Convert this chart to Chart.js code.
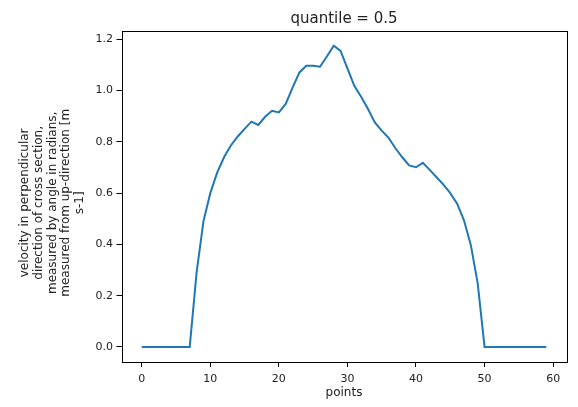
<!DOCTYPE html>
<html>
<head>
<meta charset="utf-8">
<script src="https://cdn.jsdelivr.net/npm/chart.js@4/dist/chart.umd.min.js"></script>
<style>
  html, body { margin: 0; padding: 0; background: #fff; }
  #wrap { width: 578px; height: 407px; }
</style>
</head>
<body>
<div id="wrap"><canvas id="chart" width="578" height="407"></canvas></div>
<script>
// median velocity profile along the section
const points = Array.from({length: 60}, (_, i) => i)
const velocity = [
  0, 0, 0, 0, 0, 0, 0, 0, 0.29, 0.49,
  0.60, 0.68, 0.74, 0.786, 0.821, 0.851, 0.879, 0.866, 0.898, 0.921,
  0.915, 0.948, 1.012, 1.071, 1.097, 1.097, 1.093, 1.133, 1.175, 1.155,
  1.087, 1.019, 0.976, 0.928, 0.876, 0.844, 0.816, 0.775, 0.740, 0.708,
  0.701, 0.718, 0.691, 0.662, 0.633, 0.600, 0.559, 0.494, 0.397, 0.248,
  0, 0, 0, 0, 0, 0, 0, 0, 0, 0
]
const xTicks = [0, 10, 20, 30, 40, 50, 60]
const yTicks = [0.0, 0.2, 0.4, 0.6, 0.8, 1.0, 1.2]
const yTitle = [
  'velocity in perpendicular',
  'direction of cross section,',
  'measured by angle in radians,',
  'measured from up-direction [m',
  's-1]'
]

let zip = (a, b) => a.map((x, i) => ({x: x, y: b[i]}))

// 5% margins around the data, like matplotlib autoscale
const xMin = Math.min(...points), xMax = Math.max(...points)
const yMin = Math.min(...velocity), yMax = Math.max(...velocity)
const xPad = (xMax - xMin) * 0.05, yPad = (yMax - yMin) * 0.05

const textColor = '#222'
const fontFamily = '"DejaVu Sans", sans-serif'

// full box around the plot area
const frame = {
  id: 'frame',
  afterDraw(chart) {
    const {ctx, chartArea: a} = chart
    ctx.save()
    ctx.strokeStyle = '#000'
    ctx.lineWidth = 1
    ctx.strokeRect(Math.round(a.left) + 0.5, Math.round(a.top) + 0.5,
      Math.round(a.right - a.left), Math.round(a.bottom - a.top))
    ctx.restore()
  }
}

// multi-line rotated y label, block centred a little below the axis middle
const yLabel = {
  id: 'yLabel',
  afterDraw(chart) {
    const {ctx, chartArea: a} = chart
    const lh = 13.75
    ctx.save()
    ctx.translate(25, (a.top + a.bottom) / 2 + 6.5)
    ctx.rotate(-Math.PI / 2)
    ctx.fillStyle = textColor
    ctx.font = '12px ' + fontFamily
    ctx.textAlign = 'center'
    ctx.textBaseline = 'middle'
    yTitle.forEach((line, i) => ctx.fillText(line, 0, i * lh))
    ctx.restore()
  }
}

new Chart(document.getElementById('chart'), {
  type: 'line',
  data: {
    datasets: [{
      data: zip(points, velocity),
      borderColor: '#1f77b4',
      borderWidth: 2,
      pointRadius: 0,
      fill: false,
      tension: 0
    }]
  },
  options: {
    responsive: false,
    animation: false,
    events: [],
    layout: { padding: { left: 0, right: 11.5, top: 0, bottom: 0 } },
    plugins: {
      legend: { display: false },
      tooltip: { enabled: false },
      title: {
        display: true,
        fullSize: false,
        text: 'quantile = 0.5',
        color: textColor,
        font: { family: fontFamily, size: 15, weight: 'normal', lineHeight: 1.2 },
        padding: { top: 9.8, bottom: 2.9 }
      }
    },
    scales: {
      x: {
        type: 'linear',
        min: xMin - xPad,
        max: xMax + xPad,
        afterBuildTicks: s => { s.ticks = xTicks.map(v => ({value: v})) },
        afterFit: s => { s.height = 45 },
        grid: { drawOnChartArea: false, drawTicks: true, tickLength: 5, tickColor: '#000' },
        border: { display: false },
        ticks: { color: textColor, padding: 6, maxRotation: 0,
          font: { family: fontFamily, size: 11 } },
        title: { display: true, text: 'points', color: textColor,
          font: { family: fontFamily, size: 12, lineHeight: 1.2 },
          padding: { top: 0, bottom: 6.5 } }
      },
      y: {
        min: yMin - yPad,
        max: yMax + yPad,
        afterBuildTicks: s => { s.ticks = yTicks.map(v => ({value: v})) },
        afterFit: s => { s.width = 121.5 },
        grid: { drawOnChartArea: false, drawTicks: true, tickLength: 5, tickColor: '#000' },
        border: { display: false },
        ticks: { color: textColor, padding: 3.5,
          callback: v => v.toFixed(1),
          font: { family: fontFamily, size: 11 } }
      }
    }
  },
  plugins: [frame, yLabel]
})
</script>
</body>
</html>
